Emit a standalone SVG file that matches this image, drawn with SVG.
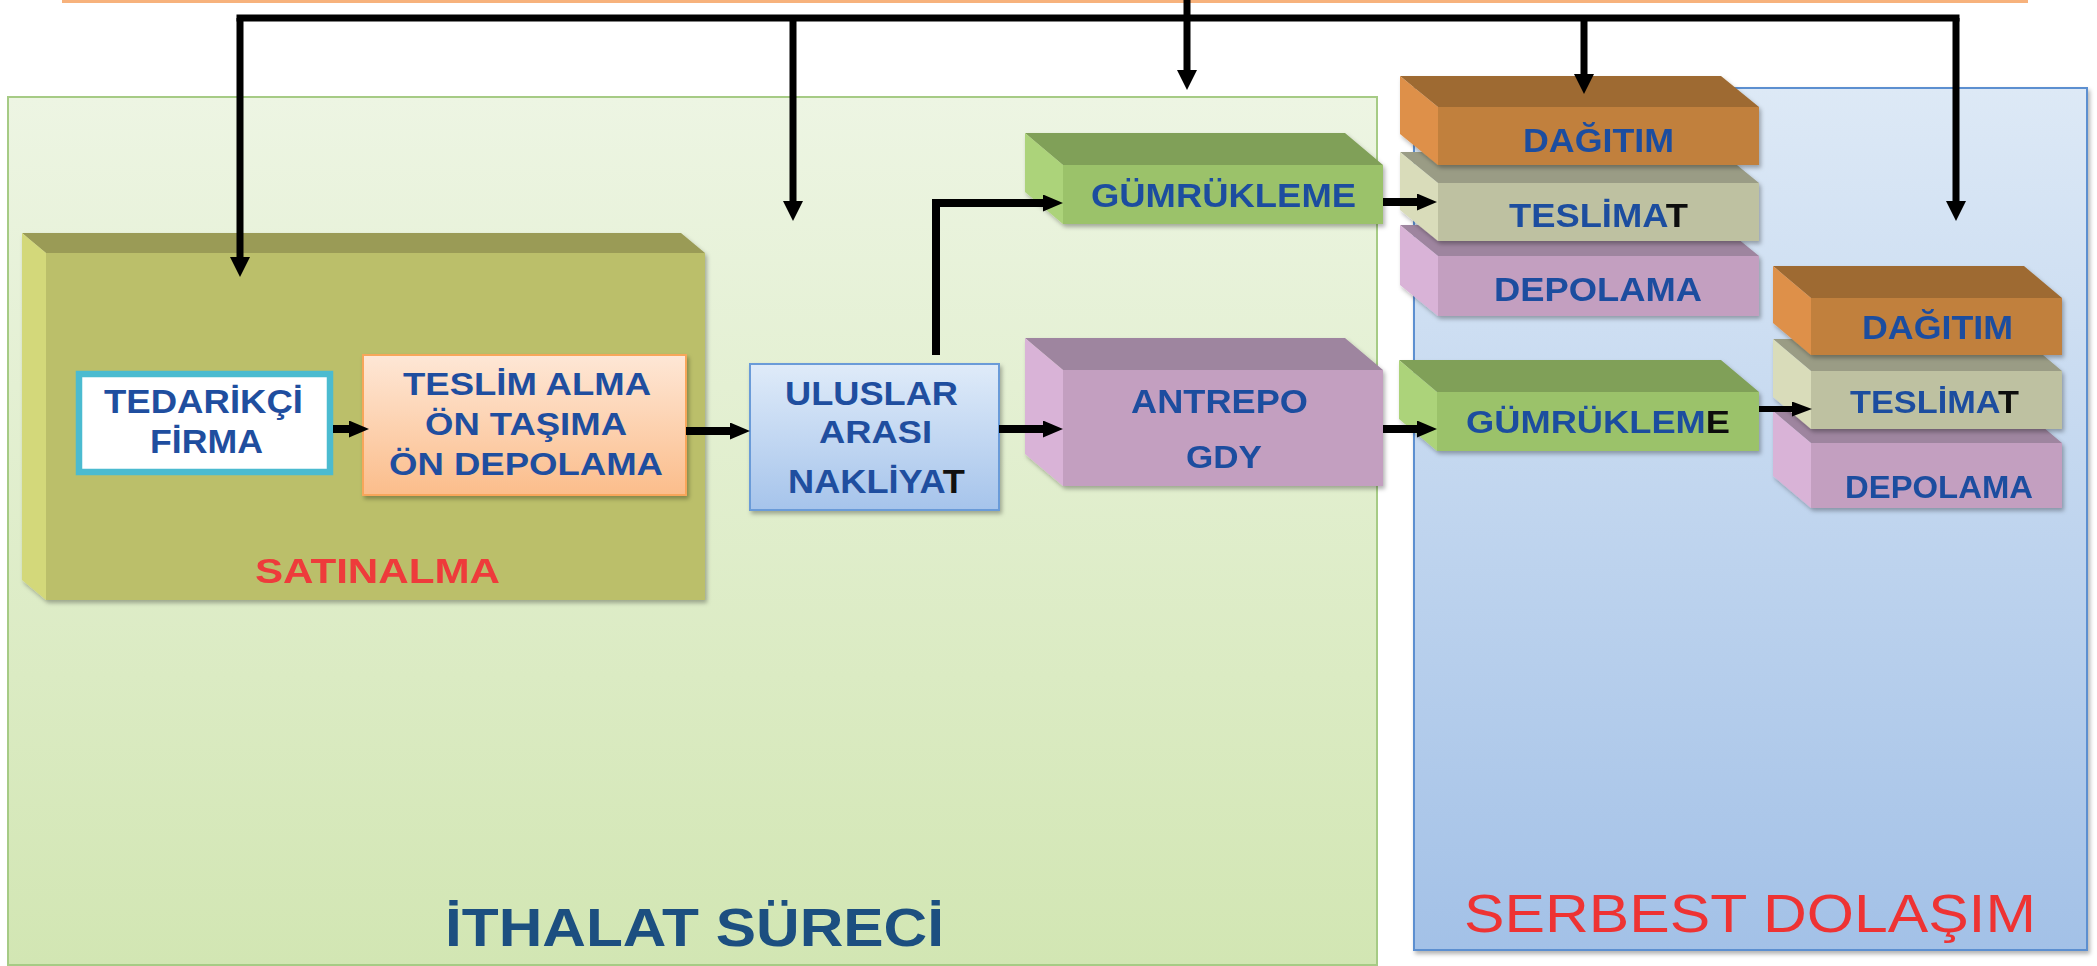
<svg xmlns="http://www.w3.org/2000/svg" width="2097" height="966" viewBox="0 0 2097 966">
<defs>
<linearGradient id="gIth" x1="0" y1="0" x2="0" y2="1"><stop offset="0" stop-color="#edf5e3"/><stop offset="1" stop-color="#d2e6b3"/></linearGradient>
<linearGradient id="gSer" x1="0" y1="0" x2="0" y2="1"><stop offset="0" stop-color="#dde9f6"/><stop offset="1" stop-color="#a3c1e7"/></linearGradient>
<linearGradient id="gOr" x1="0" y1="0" x2="0" y2="1"><stop offset="0" stop-color="#fee7d6"/><stop offset="1" stop-color="#fbbd8b"/></linearGradient>
<linearGradient id="gBl" x1="0" y1="0" x2="0" y2="1"><stop offset="0" stop-color="#dfebf9"/><stop offset="1" stop-color="#a6c4eb"/></linearGradient>
<filter id="sh" x="-10%" y="-10%" width="130%" height="130%"><feDropShadow dx="2" dy="3" stdDeviation="2" flood-color="#000" flood-opacity="0.3"/></filter>
<marker id="ah" viewBox="0 0 20 20" refX="1" refY="10" markerWidth="20" markerHeight="20" markerUnits="userSpaceOnUse" orient="auto"><path d="M0,0 L20,10 L0,20 z" fill="#000"/></marker>
<marker id="ahs" viewBox="0 0 20 17" refX="1" refY="8.5" markerWidth="20" markerHeight="17" markerUnits="userSpaceOnUse" orient="auto"><path d="M0,0 L20,8.5 L0,17 z" fill="#000"/></marker>
<marker id="aht" viewBox="0 0 20 15" refX="1" refY="7.5" markerWidth="20" markerHeight="15" markerUnits="userSpaceOnUse" orient="auto"><path d="M0,0 L20,7.5 L0,15 z" fill="#000"/></marker>
</defs>
<style>
.t{font-family:"Liberation Sans",Arial,sans-serif;font-weight:bold;fill:#1f4e9f;}
.k{fill:#111;}
.gf{fill:#9bc26b;}.gt{fill:#80a058;}.gs{fill:#acd37a;}
.pf{fill:#c39fc0;}.pt{fill:#9e859f;}.ps{fill:#d9b3d7;}
.of{fill:#c1803e;}.ot{fill:#9e6b31;}.os{fill:#de904a;}
.kf{fill:#bec1a1;}.kt{fill:#9a9c85;}.ks{fill:#d9dcba;}
.ln{fill:none;stroke:#000;stroke-width:7;}
.lh{fill:none;stroke:#000;stroke-width:8;}
</style>
<rect x="62" y="0" width="1966" height="3" fill="#f7b27c"/>
<g id="ithalat">
<rect x="8" y="97" width="1369" height="868" fill="url(#gIth)" stroke="#a6cb85" stroke-width="2"/>
<text class="t" x="445" y="946" font-size="53" textLength="499" lengthAdjust="spacingAndGlyphs" style="fill:#1c4f80">İTHALAT SÜRECİ</text>
</g>
<g id="serbest">
<rect x="1414" y="88" width="673" height="862" fill="url(#gSer)" stroke="#5b8fd0" stroke-width="2" filter="url(#sh)"/>
<text x="1464" y="932" font-family="Liberation Sans,Arial,sans-serif" font-size="54" fill="#ee3333" textLength="572" lengthAdjust="spacingAndGlyphs">SERBEST DOLAŞIM</text>
</g>
<g id="satinalma" filter="url(#sh)">
<polygon points="22,233 681,233 705,253 46,253" fill="#9a9b56"/>
<polygon points="22,233 46,253 46,600 22,580" fill="#d3d87a"/>
<rect x="46" y="253" width="659" height="347" fill="#bbbf6b"/>
<text class="t" x="255" y="583" font-size="35" textLength="245" lengthAdjust="spacingAndGlyphs" style="fill:#ee3a3a">SATINALMA</text>
</g>
<g id="tedarikci">
<rect x="79" y="374" width="251" height="98" fill="#fff" stroke="#4bbbd0" stroke-width="6.5"/>
<text class="t" x="104" y="413" font-size="33.5" textLength="199" lengthAdjust="spacingAndGlyphs">TEDARİKÇİ</text>
<text class="t" x="150" y="453" font-size="34" textLength="113" lengthAdjust="spacingAndGlyphs">FİRMA</text>
</g>
<g id="teslimalma">
<rect x="363" y="355" width="323" height="140" fill="url(#gOr)" stroke="#f7a65a" stroke-width="2" filter="url(#sh)"/>
<text class="t" x="403" y="395" font-size="32" textLength="248" lengthAdjust="spacingAndGlyphs">TESLİM ALMA</text>
<text class="t" x="425" y="435" font-size="32" textLength="202" lengthAdjust="spacingAndGlyphs">ÖN TAŞIMA</text>
<text class="t" x="389" y="475" font-size="32" textLength="274" lengthAdjust="spacingAndGlyphs">ÖN DEPOLAMA</text>
</g>
<g id="uluslararasi">
<rect x="750" y="364" width="249" height="146" fill="url(#gBl)" stroke="#6a9bd8" stroke-width="2" filter="url(#sh)"/>
<text class="t" x="785" y="405" font-size="33" textLength="173" lengthAdjust="spacingAndGlyphs">ULUSLAR</text>
<text class="t" x="819" y="443" font-size="32" textLength="113" lengthAdjust="spacingAndGlyphs">ARASI</text>
<text class="t" x="788" y="493" font-size="33" textLength="177" lengthAdjust="spacingAndGlyphs">NAKLİYA<tspan class="k">T</tspan></text>
</g>
<g id="gumrukleme1" filter="url(#sh)">
<polygon class="gt" points="1025,133 1345,133 1383,165 1063,165"/>
<polygon class="gs" points="1025,133 1063,165 1063,224 1025,192"/>
<rect class="gf" x="1063" y="165" width="320" height="59"/>
<text class="t" x="1091" y="207" font-size="33" textLength="265" lengthAdjust="spacingAndGlyphs">GÜMRÜKLEME</text>
</g>
<g id="antrepo" filter="url(#sh)">
<polygon class="pt" points="1025,338 1345,338 1383,370 1063,370"/>
<polygon class="ps" points="1025,338 1063,370 1063,486 1025,454"/>
<rect class="pf" x="1063" y="370" width="320" height="116"/>
<text class="t" x="1131" y="413" font-size="33" textLength="177" lengthAdjust="spacingAndGlyphs">ANTREPO</text>
<text class="t" x="1186" y="468" font-size="32" textLength="76" lengthAdjust="spacingAndGlyphs">GDY</text>
</g>
<g id="gumrukleme2" filter="url(#sh)">
<polygon class="gt" points="1399,360 1721,360 1759,392 1437,392"/>
<polygon class="gs" points="1399,360 1437,392 1437,451 1399,419"/>
<rect class="gf" x="1437" y="392" width="322" height="59"/>
<text class="t" x="1466" y="433" font-size="32" textLength="264" lengthAdjust="spacingAndGlyphs">GÜMRÜKLEM<tspan class="k">E</tspan></text>
</g>
<g id="depolama1" filter="url(#sh)">
<polygon class="pt" points="1400,225 1721,225 1759,256 1438,256"/>
<polygon class="ps" points="1400,225 1438,256 1438,316 1400,285"/>
<rect class="pf" x="1438" y="256" width="321" height="60"/>
<text class="t" x="1494" y="301" font-size="33" textLength="208" lengthAdjust="spacingAndGlyphs">DEPOLAMA</text>
</g>
<g id="teslimat1" filter="url(#sh)">
<polygon class="kt" points="1400,152 1721,152 1759,183 1438,183"/>
<polygon class="ks" points="1400,152 1438,183 1438,241 1400,210"/>
<rect class="kf" x="1438" y="183" width="321" height="58"/>
<text class="t" x="1509" y="227" font-size="33" textLength="179" lengthAdjust="spacingAndGlyphs">TESLİMA<tspan class="k">T</tspan></text>
</g>
<g id="dagitim1" filter="url(#sh)">
<polygon class="ot" points="1400,76 1721,76 1759,107 1438,107"/>
<polygon class="os" points="1400,76 1438,107 1438,165 1400,134"/>
<rect class="of" x="1438" y="107" width="321" height="58"/>
<text class="t" x="1523" y="152" font-size="33" textLength="151" lengthAdjust="spacingAndGlyphs">DAĞITIM</text>
</g>
<g id="depolama2" filter="url(#sh)">
<polygon class="pt" points="1773,411 2024,411 2062,443 1811,443"/>
<polygon class="ps" points="1773,411 1811,443 1811,508 1773,476"/>
<rect class="pf" x="1811" y="443" width="251" height="65"/>
<text class="t" x="1845" y="498" font-size="31" textLength="188" lengthAdjust="spacingAndGlyphs">DEPOLAMA</text>
</g>
<g id="teslimat2" filter="url(#sh)">
<polygon class="kt" points="1773,339 2024,339 2062,371 1811,371"/>
<polygon class="ks" points="1773,339 1811,371 1811,429 1773,397"/>
<rect class="kf" x="1811" y="371" width="251" height="58"/>
<text class="t" x="1850" y="413" font-size="32" textLength="169" lengthAdjust="spacingAndGlyphs">TESLİMA<tspan class="k">T</tspan></text>
</g>
<g id="dagitim2" filter="url(#sh)">
<polygon class="ot" points="1773,266 2024,266 2062,298 1811,298"/>
<polygon class="os" points="1773,266 1811,298 1811,355 1773,323"/>
<rect class="of" x="1811" y="298" width="251" height="57"/>
<text class="t" x="1862" y="339" font-size="33" textLength="151" lengthAdjust="spacingAndGlyphs">DAĞITIM</text>
</g>
<g id="connectors">
<path class="ln" d="M236.5,18 H1959.5"/>
<path class="ln" d="M240,18 V258" marker-end="url(#ah)"/>
<path class="ln" d="M793,18 V202" marker-end="url(#ah)"/>
<path class="ln" d="M1187,0 V71" marker-end="url(#ah)"/>
<path class="ln" d="M1584,18 V75" marker-end="url(#ah)"/>
<path class="ln" d="M1956,18 V202" marker-end="url(#ah)"/>
<path class="lh" d="M333,429 H350" marker-end="url(#ahs)"/>
<path class="lh" d="M686,431 H731" marker-end="url(#ahs)"/>
<path class="lh" d="M999,429 H1044" marker-end="url(#ahs)"/>
<path class="lh" d="M936,355 V203 H1044" marker-end="url(#ahs)"/>
<path class="lh" d="M1383,202 H1418" marker-end="url(#ahs)"/>
<path class="lh" d="M1383,429 H1418" marker-end="url(#ahs)"/>
<path fill="none" stroke="#000" stroke-width="6" d="M1759,409 H1793" marker-end="url(#aht)"/>
</g>
</svg>
